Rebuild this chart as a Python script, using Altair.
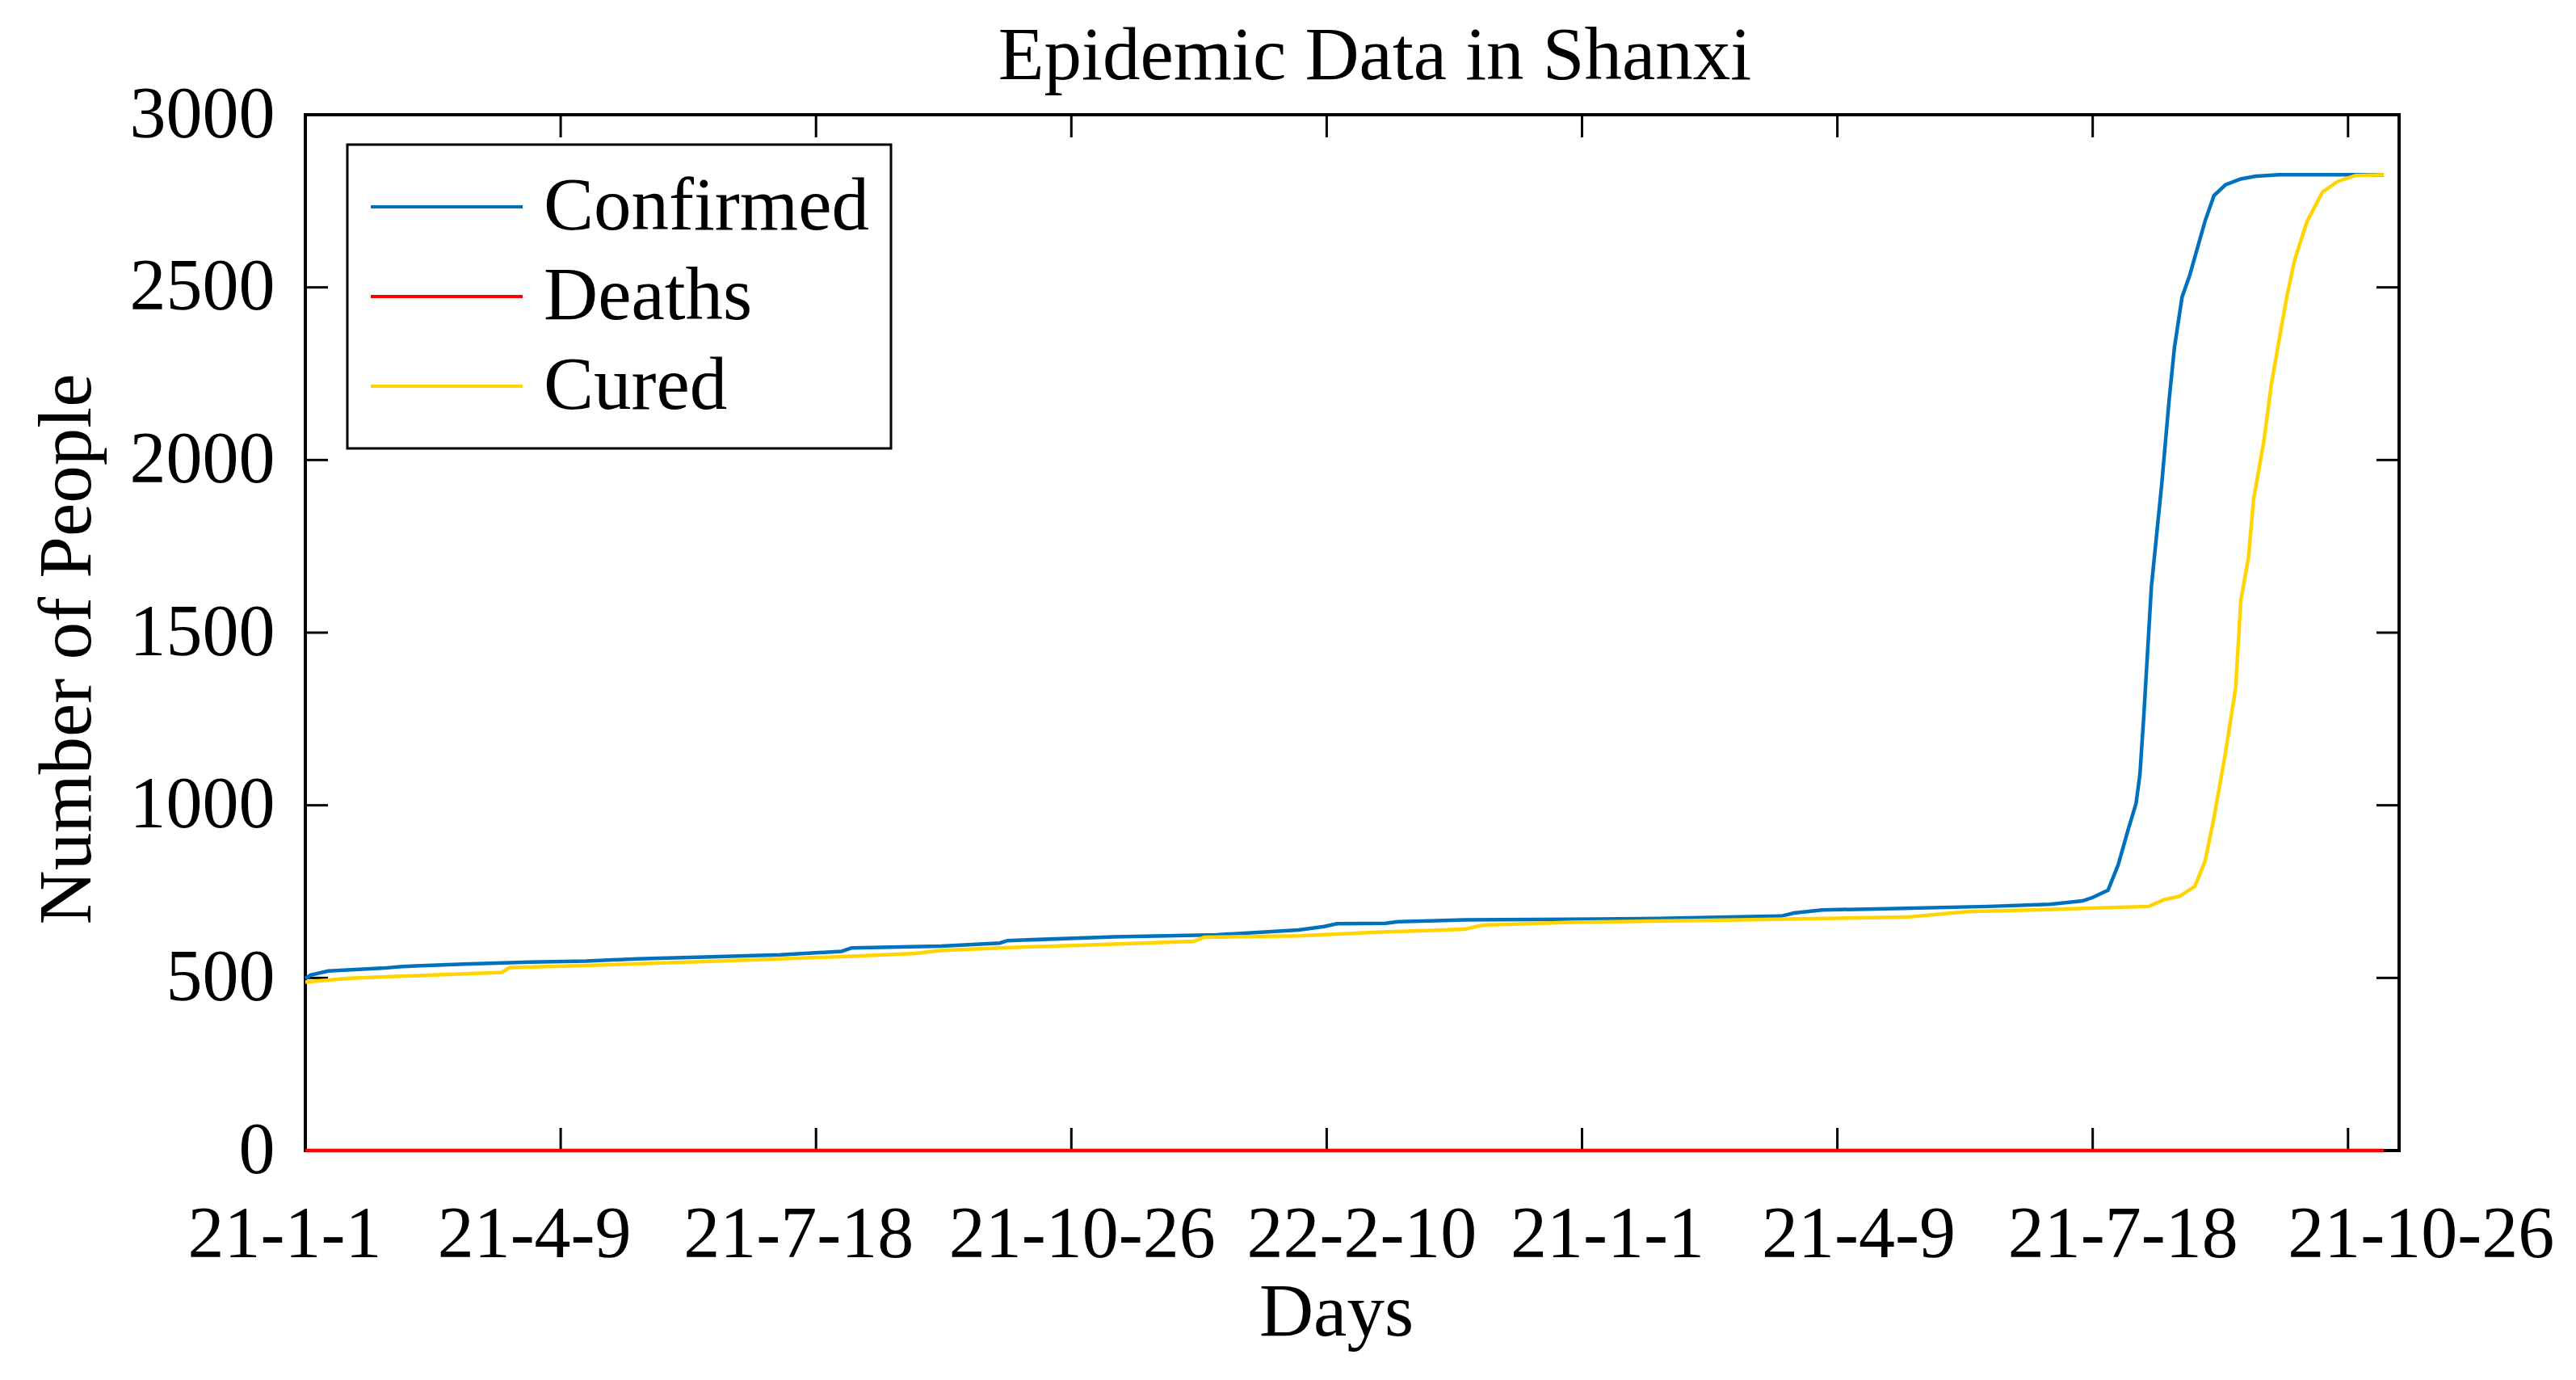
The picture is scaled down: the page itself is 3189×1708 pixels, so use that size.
import altair as alt
import pandas as pd

# ---- data ----
conf_day = [0, 2, 9, 30, 38, 62, 88, 110, 130, 159, 186, 210, 214, 249, 272, 275, 317, 357,
            389, 399, 404, 423, 428, 454, 496, 530, 578, 583, 594, 619, 659, 683, 696, 700,
            706, 710, 714, 717, 718.5, 720, 723, 727, 730, 732, 735, 738, 740, 744, 747.5,
            752, 758, 764, 773, 814]
conf_val = [498, 508, 520, 528, 533, 540, 546, 549, 555, 561, 567, 577, 587, 592, 601, 608, 619, 625,
            639, 649, 657, 658, 663, 668, 670, 672, 679, 688, 697, 700, 707, 713, 723, 733,
            754, 828, 932, 1006, 1089, 1257, 1634, 1927, 2179, 2325, 2472, 2535, 2587, 2692, 2766,
            2797, 2814, 2822, 2826, 2826]

cured_day = [0, 2, 17, 46, 77, 80, 110, 159, 186, 214, 239, 249, 272, 301, 348, 352, 389, 422,
             454, 461, 496, 562, 627, 651, 691, 722, 728, 734, 740, 744, 747.5, 752, 756, 758,
             761, 763, 767, 770, 773, 776, 779, 784, 790, 796, 803, 814]
cured_val = [488, 489, 499, 507, 516, 530, 536, 548, 555, 563, 571, 580, 587, 594, 606, 618, 622, 633,
             641, 653, 661, 668, 676, 692, 700, 707, 727, 736, 765, 838, 964, 1152, 1341, 1592,
             1718, 1886, 2053, 2221, 2347, 2472, 2577, 2692, 2776, 2807, 2824, 2826]

death_day = [0, 814]
death_val = [0, 0]

series_names = ["Confirmed", "Deaths", "Cured"]
series_colors = ["#0072BD", "#FF0000", "#FFD400"]

x_ticks = [0, 100, 200, 300, 400, 500, 600, 700, 800]
x_labels = ["21-1-1", "21-4-9", "21-7-18", "21-10-26", "22-2-10",
            "21-1-1", "21-4-9", "21-7-18", "21-10-26"]
y_ticks = [0, 500, 1000, 1500, 2000, 2500, 3000]

# layout: horizontal nudge of each x tick label, as placed in the reference (px)
x_label_nudge = [-26, -33, -22, 13, 43, 31, 26, 37, 90]

# ---- build table ----
rows = []
for name, days, vals in [("Confirmed", conf_day, conf_val),
                         ("Deaths", death_day, death_val),
                         ("Cured", cured_day, cured_val)]:
    for d, v in zip(days, vals):
        rows.append({"series": name, "day": d, "value": v})
df = pd.DataFrame(rows)

W, H = 2592, 1282
FONT = "Liberation Serif"
FS = 90      # tick labels
FT = 93      # titles / legend
TICK = 28

x_scale = alt.Scale(domain=[0, 820], nice=False, zero=False)
y_scale = alt.Scale(domain=[0, 3000], nice=False)

label_expr = "[" + ",".join("'" + s + "'" for s in x_labels) + "][round(datum.value/100)]"
label_offset = {
    "condition": [{"test": f"datum.value == {t}", "value": n}
                  for t, n in zip(x_ticks, x_label_nudge)],
    "value": 0,
}

x_axis = alt.Axis(values=x_ticks, labelExpr=label_expr, title="Days",
                  tickSize=0, domain=False, grid=False,
                  labelFont=FONT, labelFontSize=FS, labelColor="black",
                  labelPadding=60, labelFlush=False, labelOverlap=False, labelLimit=0,
                  labelOffset=label_offset,
                  titleFont=FONT, titleFontSize=FT, titleFontWeight="normal",
                  titleColor="black", titlePadding=6, titleX=W / 2 - 20)
y_axis = alt.Axis(values=y_ticks, title="Number of People", format="d",
                  tickSize=0, domain=False, grid=False,
                  labelFont=FONT, labelFontSize=FS, labelColor="black",
                  labelPadding=38, labelFlush=False, labelLimit=0,
                  titleFont=FONT, titleFontSize=FT, titleFontWeight="normal",
                  titleColor="black", titlePadding=47, titleY=H / 2 + 20)

lines = alt.Chart(df).mark_line(strokeWidth=4.5).encode(
    x=alt.X("day:Q", scale=x_scale, axis=x_axis),
    y=alt.Y("value:Q", scale=y_scale, axis=y_axis),
    color=alt.Color("series:N",
                    scale=alt.Scale(domain=series_names, range=series_colors),
                    legend=alt.Legend(title=None, orient="none", legendX=52, legendY=37,
                                      symbolType="stroke", symbolSize=35344,
                                      symbolStrokeWidth=4, labelFont=FONT,
                                      labelFontSize=FT, labelColor="black",
                                      labelOffset=24, clipHeight=100, rowPadding=11,
                                      padding=27, strokeColor="black", fillColor="white",
                                      direction="vertical", labelLimit=0)),
    order=alt.Order("day:Q"),
)

xt = pd.DataFrame({"day": x_ticks})
yt = pd.DataFrame({"value": y_ticks})

tick_bottom = alt.Chart(xt).mark_rule(color="black", strokeWidth=3).encode(
    x=alt.X("day:Q", scale=x_scale, axis=x_axis), y=alt.value(H), y2=alt.value(H - TICK))
tick_top = alt.Chart(xt).mark_rule(color="black", strokeWidth=3).encode(
    x=alt.X("day:Q", scale=x_scale, axis=x_axis), y=alt.value(0), y2=alt.value(TICK))
tick_left = alt.Chart(yt).mark_rule(color="black", strokeWidth=3).encode(
    y=alt.Y("value:Q", scale=y_scale, axis=y_axis), x=alt.value(0), x2=alt.value(TICK))
tick_right = alt.Chart(yt).mark_rule(color="black", strokeWidth=3).encode(
    y=alt.Y("value:Q", scale=y_scale, axis=y_axis), x=alt.value(W - TICK), x2=alt.value(W))

chart = alt.layer(tick_bottom, tick_top, tick_left, tick_right, lines).properties(
    width=W, height=H,
    title=alt.TitleParams("Epidemic Data in Shanxi", font=FONT, fontSize=FT,
                          fontWeight="normal", color="black", offset=-21, dx=28),
    background="white",
    padding={"left": 29, "top": 16, "right": 5, "bottom": 5},
).configure_view(stroke="black", strokeWidth=4).configure_legend(strokeWidth=3)

chart.save("out.html", embed_options={"renderer": "svg", "actions": False})
